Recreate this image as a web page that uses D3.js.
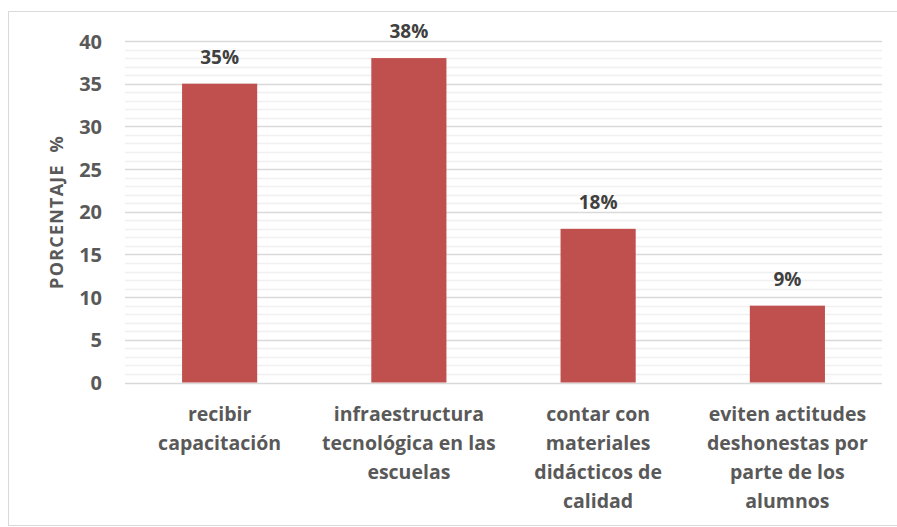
<!DOCTYPE html>
<html>
<head>
<meta charset="utf-8">
<script src="https://cdn.jsdelivr.net/npm/d3@7"></script>
<style>
  body { margin: 0; background: #fff; }
  svg text { font-family: "Open Sans", Lato, sans-serif; font-weight: bold; }
</style>
</head>
<body>
<div id="chart"></div>
<script>
// data
var categories = [
  ["recibir", "capacitación"],
  ["infraestructura", "tecnológica en las", "escuelas"],
  ["contar con", "materiales", "didácticos de", "calidad"],
  ["eviten actitudes", "deshonestas por", "parte de los", "alumnos"]
];
var values = [35, 38, 18, 9];
var valueLabels = ["35%", "38%", "18%", "9%"];
var majorTicks = [0, 5, 10, 15, 20, 25, 30, 35, 40];
var minorTicks = d3.range(0, 41, 1);

var W = 897, H = 527;
var plotL = 125, plotR = 882, plotT = 41, plotB = 382.5;

var svg = d3.select("#chart").append("svg")
  .attr("width", W).attr("height", H);

// chart frame
svg.append("rect")
  .attr("x", 8.5).attr("y", 11.5)
  .attr("width", 895).attr("height", 514)
  .attr("fill", "none").attr("stroke", "#d9d9d9").attr("stroke-width", 1);

var x = d3.scaleBand()
  .domain(d3.range(categories.length))
  .range([plotL, plotR])
  .paddingInner(0.603).paddingOuter(0.3015);

var y = d3.scaleLinear().domain([0, 40]).range([plotB, plotT]);

// minor gridlines
svg.append("g").selectAll("line")
  .data(minorTicks.filter(function(d){ return d % 5 !== 0; }))
  .enter().append("line")
  .attr("x1", plotL).attr("x2", plotR)
  .attr("y1", function(d){ return Math.round(y(d)) + 0.5; })
  .attr("y2", function(d){ return Math.round(y(d)) + 0.5; })
  .attr("stroke", "#f0f0f0").attr("stroke-width", 1.5);

// major gridlines
svg.append("g").selectAll("line")
  .data(majorTicks)
  .enter().append("line")
  .attr("x1", plotL).attr("x2", plotR)
  .attr("y1", function(d){ return Math.round(y(d)) + 0.5; })
  .attr("y2", function(d){ return Math.round(y(d)) + 0.5; })
  .attr("stroke", "#d9d9d9").attr("stroke-width", 1.5);

// y axis labels
var yAxis = d3.axisLeft(y).tickValues(majorTicks).tickSize(0).tickPadding(0);
var ya = svg.append("g").attr("transform", "translate(102,0)").call(yAxis);
ya.select(".domain").remove();
ya.selectAll("text")
  .attr("fill", "#595959")
  .style("font-family", "'Open Sans', sans-serif")
  .style("font-weight", "bold")
  .style("font-size", "20px")
  .attr("dy", "0.35em");

// bars
svg.append("g").selectAll("rect")
  .data(values)
  .enter().append("rect")
  .attr("x", function(d, i){ return x(i); })
  .attr("y", function(d){ return y(d); })
  .attr("width", x.bandwidth())
  .attr("height", function(d){ return y(0) - y(d); })
  .attr("fill", "#c0504d");

// value labels
svg.append("g").selectAll("text")
  .data(values)
  .enter().append("text")
  .attr("x", function(d, i){ return x(i) + x.bandwidth() / 2; })
  .attr("y", function(d){ return y(d) - 20; })
  .attr("text-anchor", "middle")
  .attr("fill", "#404040")
  .style("font-size", "19px")
  .text(function(d, i){ return valueLabels[i]; });

// category labels
var cat = svg.append("g").selectAll("text")
  .data(categories)
  .enter().append("text")
  .attr("text-anchor", "middle")
  .attr("fill", "#595959")
  .style("font-size", "19.5px");
cat.each(function(lines, i){
  var t = d3.select(this);
  lines.forEach(function(line, j){
    t.append("tspan")
      .attr("x", x(i) + x.bandwidth() / 2)
      .attr("y", 421 + j * 29)
      .text(line);
  });
});

// y axis title
svg.append("text")
  .attr("transform", "translate(63,212) rotate(-90)")
  .attr("text-anchor", "middle")
  .attr("fill", "#595959")
  .style("font-size", "18px")
  .style("letter-spacing", "1.2px")
  .style("white-space", "pre")
  .text("PORCENTAJE  %");
</script>
</body>
</html>
